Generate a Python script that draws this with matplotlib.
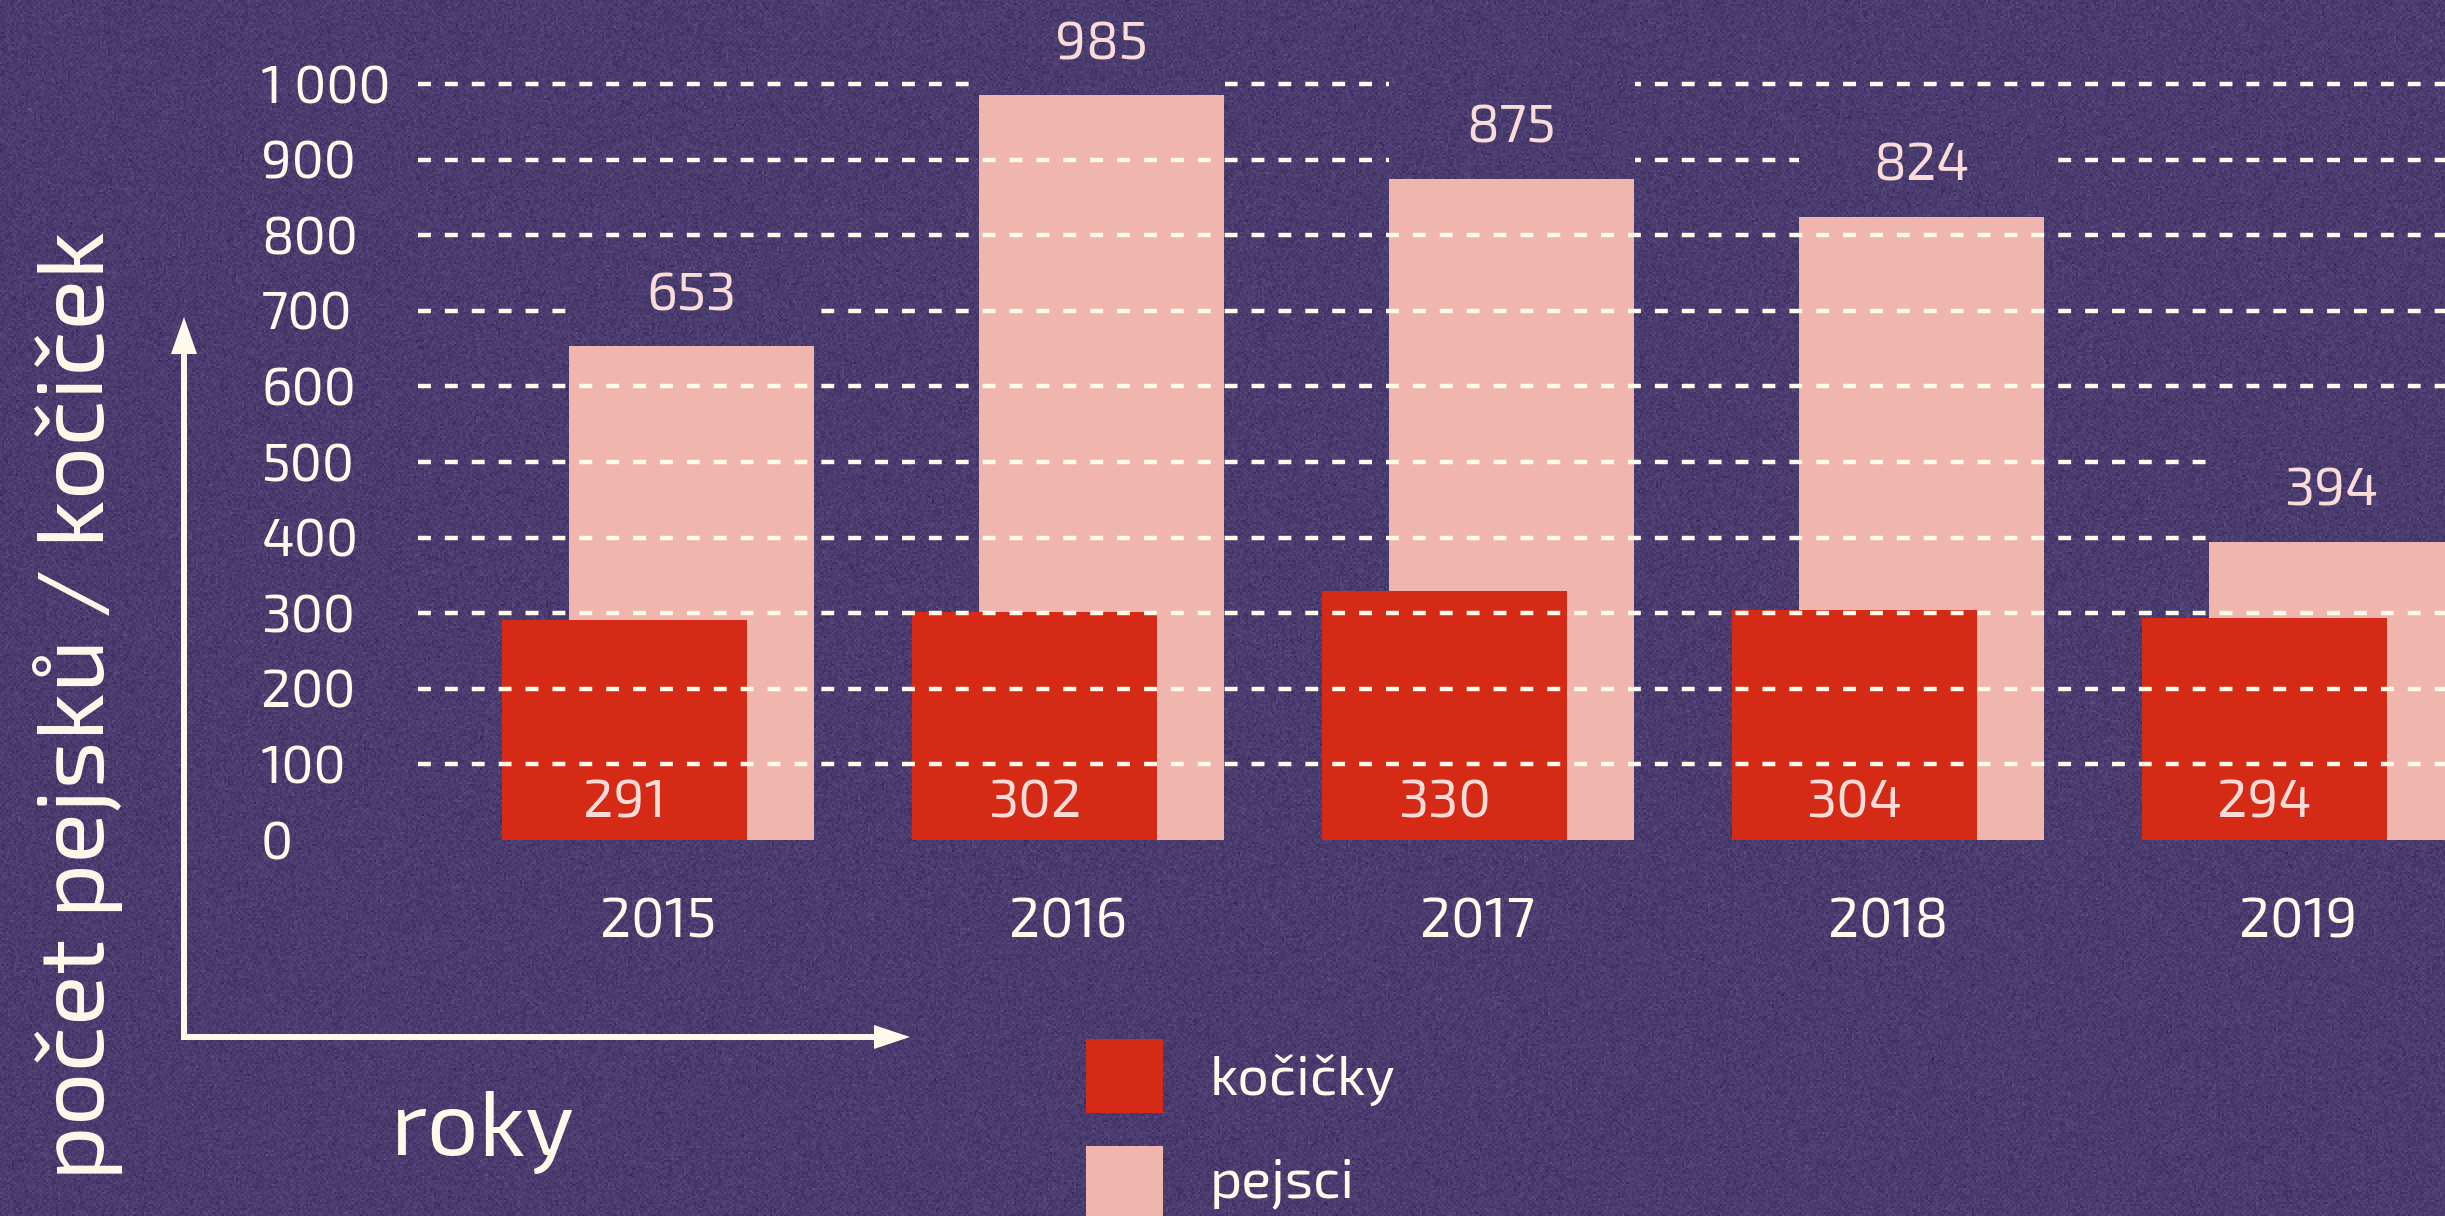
import numpy as np
import matplotlib
matplotlib.use("Agg")
import matplotlib.pyplot as plt
from matplotlib import transforms
from matplotlib.patches import Rectangle, Polygon
from matplotlib.lines import Line2D

plt.rcParams['font.family'] = ['Exo 2', 'Saira', 'DejaVu Sans']
plt.rcParams['font.weight'] = 300

# data
years = ['2015', '2016', '2017', '2018', '2019']
kocicky = [291, 302, 330, 304, 294]
pejsci = [653, 985, 875, 824, 394]
yticks = [0, 100, 200, 300, 400, 500, 600, 700, 800, 900, 1000]
ytick_labels = ['0', '100', '200', '300', '400', '500', '600', '700', '800', '900', '1 000']

BG = '#4a3c6e'
RED = '#d52a15'
PINK = '#f0b6ae'
CREAM = '#fdfaea'
LABEL = '#f9dcd7'

W, H = 2445, 1216
fig = plt.figure(figsize=(W / 100, H / 100), dpi=100)
fig.patch.set_facecolor(BG)

# grainy paper background
rng = np.random.default_rng(3)
base = np.array([74, 60, 110], dtype=float)
grain = rng.normal(0, 6, (H // 2 + 1, W // 2 + 1))
grain = np.kron(grain, np.ones((2, 2)))[:H, :W]
tex = np.clip(base[None, None, :] + grain[:, :, None], 0, 255) / 255
fig.figimage(tex, xo=0, yo=0, zorder=-10)

# pixel coordinates, origin top-left
px = transforms.Affine2D().scale(1 / W, -1 / H).translate(0, 1) + fig.transFigure

ax = fig.add_axes([418 / W, (H - 840) / H, (W - 418) / W, 840 / H])
ax.set_zorder(1)
ax.patch.set_alpha(0)
for s in ax.spines.values():
    s.set_visible(False)

x = np.arange(len(years))
width = 0.598
off = 0.0817
xmin, xmax = -0.585, -0.585 + (W - 418) / 410
ymax = 840 / 0.756

ax.bar(x + off, pejsci, width=width, color=PINK, zorder=1)
ax.bar(x - off, kocicky, width=width, color=RED, zorder=2)

for v in yticks[1:]:
    ax.axhline(v, color=CREAM, lw=3.2, dashes=(2.9, 3.15), zorder=3)

# boxes above the dog bars hide the grid, filled with the same paper grain
boxes = ax.bar(x + off, [143] * len(pejsci), bottom=pejsci, width=width,
               color='none', zorder=4)
for rect in boxes:
    im = ax.imshow(tex[:840, 418:], extent=(xmin, xmax, 0, ymax), aspect='auto',
                   interpolation='nearest', zorder=4)
    im.set_clip_path(rect)

for i in range(len(years)):
    ax.text(x[i] + off, pejsci[i] + 48, str(pejsci[i]), color=LABEL, fontsize=39,
            ha='center', va='baseline', zorder=5)
    ax.text(x[i] - off, 30, str(kocicky[i]), color=LABEL, fontsize=39,
            ha='center', va='baseline', zorder=5)
    ax.text(x[i], -129, years[i], color=CREAM, fontsize=40,
            ha='center', va='baseline', clip_on=False)

ax.set_xlim(xmin, xmax)
ax.set_ylim(0, ymax)
ax.set_xticks([])
ax.set_yticks(yticks, ytick_labels)
ax.tick_params(axis='y', length=0, pad=113, labelsize=38.5, labelcolor=CREAM)
for lab in ax.get_yticklabels():
    lab.set_ha('left')

# axis arrows
fig.add_artist(Line2D([184, 184, 880], [350, 1037, 1037], transform=px,
                      color=CREAM, lw=4.3, solid_joinstyle='miter'))
fig.add_artist(Polygon([[184, 317], [171, 354], [197, 354]], closed=True,
                       transform=px, color=CREAM, lw=0))
fig.add_artist(Polygon([[910, 1037], [874, 1025], [874, 1049]], closed=True,
                       transform=px, color=CREAM, lw=0))

fig.text(78, 705, 'počet pejsků / kočiček', transform=px, color=CREAM,
         fontsize=68, fontweight=400, rotation=90, ha='center', va='center')
fig.text(483, 1155, 'roky', transform=px, color=CREAM, fontsize=66,
         ha='center', va='baseline')

# legend
fig.add_artist(Rectangle((1086, 1039), 77, 74, transform=px, color=RED, lw=0))
fig.add_artist(Rectangle((1086, 1146), 77, 74, transform=px, color=PINK, lw=0))
fig.text(1210, 1095, 'kočičky', transform=px, color=CREAM, fontsize=40, va='baseline')
fig.text(1210, 1197, 'pejsci', transform=px, color=CREAM, fontsize=40, va='baseline')

fig.savefig('out.png', dpi=100, facecolor=BG)
